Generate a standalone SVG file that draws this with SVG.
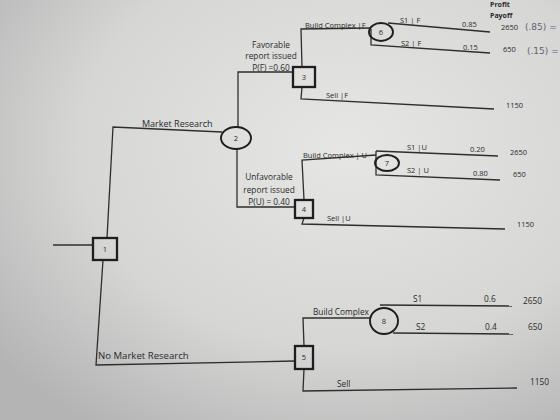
<svg xmlns="http://www.w3.org/2000/svg" width="560" height="420" viewBox="0 0 560 420">
<defs>
<radialGradient id="bg" cx="0.62" cy="0.35" r="0.8">
<stop offset="0" stop-color="#e6e6e4"/>
<stop offset="0.6" stop-color="#d6d6d5"/>
<stop offset="1" stop-color="#b4b4b4"/>
</radialGradient>
<style>
.ln{fill:none;stroke:#2e2e2e;stroke-width:1.3}
.box{fill:none;stroke:#1e1e1e;stroke-width:2.3}
.cir{fill:none;stroke:#1e1e1e;stroke-width:1.9}
text{font-family:"Open Sans","Liberation Sans",sans-serif;fill:#2a2a2a}
.t7{font-size:7.5px}
.t8{font-size:8.3px}
.t9{font-size:9px}
.t10{font-size:9.6px}
.id{font-size:7.5px;text-anchor:middle}
.c{text-anchor:middle}
.hd{font-size:7px;font-weight:bold}
.hw{font-family:"DejaVu Sans",sans-serif;font-size:9px;fill:#5f6373}
</style>
</defs>
<rect width="560" height="420" fill="url(#bg)"/>
<g id="connectors">
<polyline class="ln" points="53,245 93,245"/>
<polyline class="ln" points="107,238 113,127 222,132"/>
<polyline class="ln" points="103,260 96,365 295,361"/>
<polyline class="ln" points="238,127 238,72 293,72"/>
<polyline class="ln" points="237,149 237,207 295,207"/>
<polyline class="ln" points="302,67 301,29 370,28"/>
<polyline class="ln" points="302,87 301,99 494,109"/>
<polyline class="ln" points="388,23 490,32"/>
<polyline class="ln" points="371,29 371,45 490,53"/>
<polyline class="ln" points="304,200 302,160 376,155"/>
<polyline class="ln" points="304,218 302,224 505,229"/>
<polyline class="ln" points="376,151 498,156"/>
<polyline class="ln" points="376,151 376,175 500,180"/>
<polyline class="ln" points="304,346 303,318 370,318"/>
<polyline class="ln" points="304,369 303,391 517,388"/>
<polyline class="ln" points="380,305 512,306"/>
<polyline class="ln" points="393,333 513,334"/>
</g>
<g id="node1"><rect class="box" x="93" y="238" width="24" height="22"/><text class="id" x="105" y="252">1</text></g>
<g id="node2"><ellipse class="cir" cx="236" cy="138" rx="15" ry="11"/><text class="id" x="236" y="141">2</text></g>
<g id="node3"><rect class="box" x="293" y="67" width="22" height="20"/><text class="id" x="304" y="80">3</text></g>
<g id="node4"><rect class="box" x="295" y="200" width="18" height="18"/><text class="id" x="304" y="212">4</text></g>
<g id="node5"><rect class="box" x="295" y="346" width="18" height="23"/><text class="id" x="304" y="360">5</text></g>
<g id="node6"><ellipse class="cir" cx="381" cy="32" rx="12" ry="9"/><text class="id" x="381" y="35">6</text></g>
<g id="node7"><ellipse class="cir" cx="387" cy="163" rx="12" ry="8"/><text class="id" x="387" y="166">7</text></g>
<g id="node8"><ellipse class="cir" cx="384" cy="321" rx="14" ry="13"/><text class="id" x="384" y="324">8</text></g>
<g id="labels">
<text class="hd" x="490" y="7">Profit</text>
<text class="hd" x="490" y="18">Payoff</text>
<text class="t7" x="305" y="28">Build Complex |F</text>
<text class="t7" x="400" y="22.5">S1 | F</text>
<text class="t7" x="462" y="27">0.85</text>
<text class="t7" x="501" y="30">2650</text>
<text class="t7" x="401" y="45.5">S2 | F</text>
<text class="t7" x="463" y="50">0.15</text>
<text class="t7" x="503" y="52">650</text>
<text class="hw" x="525" y="30">(.85) =</text>
<text class="hw" x="527" y="54">(.15) =</text>
<text class="t7" x="326" y="98">Sell |F</text>
<text class="t7" x="506" y="108">1150</text>
<text class="t8 c" x="271" y="48">Favorable</text>
<text class="t8 c" x="271" y="59">report issued</text>
<text class="t8 c" x="271" y="71">P(F) =0.60</text>
<text class="t9" x="142" y="127">Market Research</text>
<text class="t8 c" x="269" y="180">Unfavorable</text>
<text class="t8 c" x="269" y="193">report issued</text>
<text class="t8 c" x="269" y="205">P(U) = 0.40</text>
<text class="t7" x="303" y="158">Build Complex | U</text>
<text class="t7" x="407" y="149.5">S1 |U</text>
<text class="t7" x="470" y="152">0.20</text>
<text class="t7" x="510" y="155">2650</text>
<text class="t7" x="407" y="173">S2 | U</text>
<text class="t7" x="473" y="176">0.80</text>
<text class="t7" x="513" y="177">650</text>
<text class="t7" x="327" y="221">Sell |U</text>
<text class="t7" x="517" y="227">1150</text>
<text class="t8" x="313" y="315">Build Complex</text>
<text class="t8" x="413" y="302">S1</text>
<text class="t8" x="484" y="302">0.6</text>
<text class="t8" x="523" y="304">2650</text>
<text class="t8" x="416" y="330">S2</text>
<text class="t8" x="485" y="330">0.4</text>
<text class="t8" x="528" y="330">650</text>
<text class="t8" x="337" y="387">Sell</text>
<text class="t8" x="530" y="385">1150</text>
<text class="t10" x="98" y="359">No Market Research</text>
</g>
</svg>
